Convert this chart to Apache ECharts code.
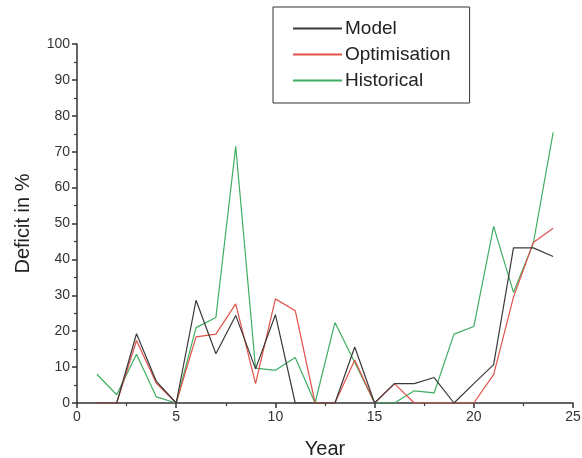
<!DOCTYPE html>
<html>
<head>
<meta charset="utf-8">
<script src="https://cdn.jsdelivr.net/npm/echarts@6/dist/echarts.min.js"></script>
<style>
html,body{margin:0;padding:0;background:#fff;}
#chart{width:582px;height:458px;}
</style>
</head>
<body>
<div id="chart"></div>
<script>
const years = [1,2,3,4,5,6,7,8,9,10,11,12,13,14,15,16,17,18,19,20,21,22,23,24];
const model = [0,0,19.3,6,0,28.6,13.7,24.4,9.5,24.6,0,0,0,15.6,0,5.4,5.4,7.1,0,5.4,10.7,43.2,43.2,40.8];
const optimisation = [0,0,17.4,5.5,0,18.4,19.2,27.6,5.4,29,25.7,0,0,12,0,5.4,0,0,0,0,7.9,29.5,44.7,48.7];
const historical = [8,2.3,13.6,1.7,0,21,23.8,71.5,9.7,9.1,12.7,0,22.4,11.3,0,0,3.4,2.8,19.2,21.3,49.2,30.8,44.5,75.4];
const seriesNames = ['Model','Optimisation','Historical'];
const seriesColors = ['#3a3a3a','#e0524a','#3fae63'];

const pairs = arr => years.map((y,i)=>[y, arr[i]]);
const allData = [model, optimisation, historical];

const chart = echarts.init(document.getElementById('chart'));
const font = 'Liberation Sans, Arial, sans-serif';
chart.setOption({
  animation:false,
  backgroundColor:'#fff',
  grid:{left:77,right:9,top:44,bottom:55,containLabel:false,outerBoundsMode:'none'},
  legend:{
    data:seriesNames,
    orient:'vertical',
    left:273, top:7,
    padding:[12,19,13,20],
    itemGap:7,
    itemWidth:49, itemHeight:14,
    borderColor:'#333', borderWidth:1,
    textStyle:{fontFamily:font,fontSize:19,color:'#222',padding:[0,0,0,-2]},
    icon:'path://M0,0 L100,0 L100,4 L0,4 Z'
  },
  xAxis:{
    type:'value',min:0,max:25,interval:5,
    name:'Year',nameLocation:'middle',nameGap:36,
    nameTextStyle:{fontFamily:font,fontSize:20,color:'#222'},
    axisLine:{show:true,lineStyle:{color:'#333',width:1.5}},
    axisTick:{show:true,length:5,lineStyle:{color:'#333',width:1.5}},
    minorTick:{show:true,splitNumber:2,length:3,lineStyle:{color:'#333',width:1.2}},
    axisLabel:{fontFamily:font,fontSize:14,color:'#333',margin:7},
    splitLine:{show:false}
  },
  yAxis:{
    type:'value',min:0,max:100,interval:10,
    name:'Deficit in %',nameLocation:'middle',nameGap:44,
    nameTextStyle:{fontFamily:font,fontSize:20,color:'#222'},
    axisLine:{show:true,lineStyle:{color:'#333',width:1.5}},
    axisTick:{show:true,length:5,lineStyle:{color:'#333',width:1.5}},
    minorTick:{show:true,splitNumber:2,length:3,lineStyle:{color:'#333',width:1.2}},
    axisLabel:{fontFamily:font,fontSize:14,color:'#333',margin:7},
    splitLine:{show:false}
  },
  series: seriesNames.map((n,i)=>({
    name:n,type:'line',data:pairs(allData[i]),
    symbol:'none',
    lineStyle:{color:seriesColors[i],width:1.2},
    itemStyle:{color:seriesColors[i]},
    z: 3-i
  }))
});
</script>
</body>
</html>
